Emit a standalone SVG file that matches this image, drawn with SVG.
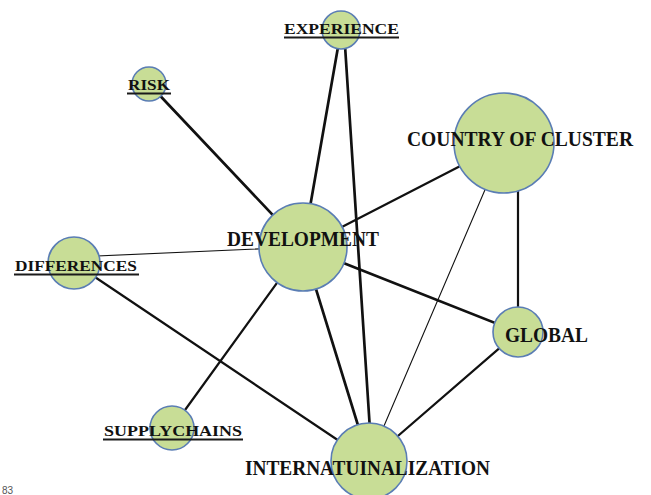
<svg xmlns="http://www.w3.org/2000/svg" width="651" height="495" viewBox="0 0 651 495">
  <style>
    .node circle { fill: #c8dd96; stroke: #5a7db4; stroke-width: 1.6; }
    .lbl { font-family: "Liberation Serif", "Times New Roman", serif; font-weight: bold; fill: #111111; }
    .big { font-size: 20px; }
    .small { font-size: 15.5px; }
    .ul { stroke: #1a1a1a; stroke-width: 2; }
    .edges line { stroke: #111; stroke-linecap: round; }
    .w3 { stroke-width: 2.7; }
    .w2 { stroke-width: 2.2; }
    .w1 { stroke-width: 1.1; }
  </style>
  <rect width="651" height="495" fill="#ffffff"/>

  <!-- connectors -->
  <g id="edges" class="edges">
    <line class="w3" x1="149" y1="84" x2="303" y2="247"/>
    <line class="w3" x1="341" y1="30" x2="303" y2="247"/>
    <line class="w3" x1="344" y1="30" x2="372" y2="461"/>
    <line class="w2" x1="505" y1="143" x2="303" y2="247"/>
    <line class="w2" x1="518" y1="180" x2="518" y2="332"/>
    <line class="w1" x1="505" y1="143" x2="369" y2="461"/>
    <line class="w1" x1="74" y1="257" x2="303" y2="247"/>
    <line class="w3" x1="303" y1="247" x2="518" y2="332"/>
    <line class="w3" x1="303" y1="247" x2="369" y2="461"/>
    <line class="w2" x1="303" y1="247" x2="172" y2="428"/>
    <line class="w2" x1="74" y1="263" x2="369" y2="461"/>
    <line class="w2" x1="518" y1="332" x2="369" y2="461"/>
  </g>

  <!-- nodes -->
  <g id="n-experience" class="node">
    <circle cx="341" cy="30" r="19"/>
    <text class="lbl small" x="284" y="34" textLength="115" lengthAdjust="spacingAndGlyphs">EXPERIENCE</text>
    <line class="ul" x1="284" y1="37.5" x2="399" y2="37.5"/>
  </g>
  <g id="n-risk" class="node">
    <circle cx="149" cy="84" r="17"/>
    <text class="lbl small" x="128" y="90" textLength="42" lengthAdjust="spacingAndGlyphs">RISK</text>
    <line class="ul" x1="127" y1="93.5" x2="171" y2="93.5"/>
  </g>
  <g id="n-country" class="node">
    <circle cx="504" cy="143" r="50"/>
    <text class="lbl big" x="407" y="146" textLength="226" lengthAdjust="spacingAndGlyphs">COUNTRY OF CLUSTER</text>
  </g>
  <g id="n-development" class="node">
    <circle cx="303" cy="247" r="44"/>
    <text class="lbl big" x="227" y="246" textLength="152" lengthAdjust="spacingAndGlyphs">DEVELOPMENT</text>
  </g>
  <g id="n-differences" class="node">
    <circle cx="74" cy="263" r="26"/>
    <text class="lbl small" x="15" y="271" textLength="122" lengthAdjust="spacingAndGlyphs">DIFFERENCES</text>
    <line class="ul" x1="14" y1="274.5" x2="139" y2="274.5"/>
  </g>
  <g id="n-global" class="node">
    <circle cx="518" cy="332" r="25"/>
    <text class="lbl big" x="505" y="342" textLength="83" lengthAdjust="spacingAndGlyphs">GLOBAL</text>
  </g>
  <g id="n-supply" class="node">
    <circle cx="172" cy="428" r="22"/>
    <text class="lbl small" x="104" y="436" textLength="138" lengthAdjust="spacingAndGlyphs">SUPPLYCHAINS</text>
    <line class="ul" x1="103" y1="439.5" x2="243" y2="439.5"/>
  </g>
  <g id="n-internat" class="node">
    <circle cx="369" cy="461" r="38"/>
    <text class="lbl big" x="245" y="475" textLength="245" lengthAdjust="spacingAndGlyphs">INTERNATUINALIZATION</text>
  </g>

  <text x="2" y="494" font-family="Liberation Sans, Arial, sans-serif" font-size="10" fill="#555555">83</text>
</svg>
